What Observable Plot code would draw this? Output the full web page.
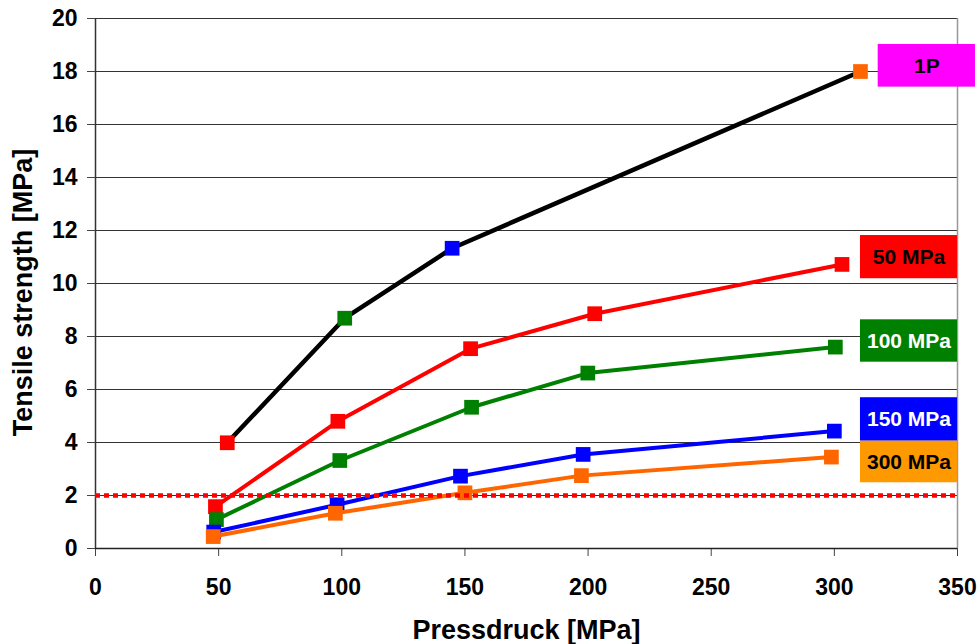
<!DOCTYPE html>
<html>
<head>
<meta charset="utf-8">
<script src="https://cdn.jsdelivr.net/npm/d3@7"></script>
<script src="https://cdn.jsdelivr.net/npm/@observablehq/plot@0.6"></script>
<style>
  html, body { margin: 0; padding: 0; background: #fff; }
  #chart { width: 980px; height: 644px; }
</style>
</head>
<body>
<div id="chart"></div>
<script>
// ---- data ----
const xTicks = [0, 50, 100, 150, 200, 250, 300, 350];
const yTicks = [0, 2, 4, 6, 8, 10, 12, 14, 16, 18, 20];

const seriesNames = ["1P", "50 MPa", "100 MPa", "150 MPa", "300 MPa"];

const x1P = [53.5, 101.2, 144.8, 310.6];
const y1P = [3.99, 8.69, 11.33, 18.0];
const marker1P = ["50 MPa", "100 MPa", "150 MPa", "300 MPa"];

const x50 = [48.7, 98.4, 152.3, 202.7, 303.1];
const y50 = [1.58, 4.80, 7.54, 8.86, 10.72];

const x100 = [49.1, 99.2, 152.7, 199.9, 300.4];
const y100 = [1.09, 3.32, 5.33, 6.62, 7.60];

const x150 = [48.0, 98.1, 148.2, 198.0, 300.0];
const y150 = [0.62, 1.65, 2.73, 3.55, 4.43];

const x300 = [47.8, 97.4, 150.0, 197.3, 298.8];
const y300 = [0.45, 1.33, 2.10, 2.75, 3.45];

const thresholdY = [2];

// legend boxes (in data units)
const labelNames = ["1P", "50 MPa", "100 MPa", "150 MPa", "300 MPa"];
const labelX1 = [317.8, 310.6, 310.6, 310.6, 310.6];
const labelX2 = [357.3, 350, 350, 350, 350];
const labelY1 = [17.41, 10.18, 7.03, 4.05, 2.48];
const labelY2 = [19.02, 11.81, 8.63, 5.69, 4.05];

// ---- styles ----
const lineColor = {"1P": "#000000", "50 MPa": "#FF0000", "100 MPa": "#008000", "150 MPa": "#0000FF", "300 MPa": "#FF6600"};
const markerColor = {"50 MPa": "#FF0000", "100 MPa": "#008000", "150 MPa": "#0000FF", "300 MPa": "#FF6600"};
const boxColor = {"1P": "#FF00FF", "50 MPa": "#FF0000", "100 MPa": "#008000", "150 MPa": "#0000FF", "300 MPa": "#FF9900"};
const boxText = {"1P": "#000000", "50 MPa": "#000000", "100 MPa": "#FFFFFF", "150 MPa": "#FFFFFF", "300 MPa": "#000000"};

// ---- build tables ----
const xs = {"1P": x1P, "50 MPa": x50, "100 MPa": x100, "150 MPa": x150, "300 MPa": x300};
const ys = {"1P": y1P, "50 MPa": y50, "100 MPa": y100, "150 MPa": y150, "300 MPa": y300};
const rows = {};
for (const s of seriesNames) {
  rows[s] = xs[s].map((x, i) => ({
    series: s, x, y: ys[s][i],
    marker: s === "1P" ? markerColor[marker1P[i]] : markerColor[s]
  }));
}
const labels = labelNames.map((n, i) => ({
  name: n, x1: labelX1[i], x2: labelX2[i], y1: labelY1[i], y2: labelY2[i],
  xm: (labelX1[i] + labelX2[i]) / 2, ym: (labelY1[i] + labelY2[i]) / 2
}));

const seriesMarks = [];
for (const s of seriesNames) {
  seriesMarks.push(Plot.line(rows[s], {x: "x", y: "y", stroke: lineColor[s], strokeWidth: s === "1P" ? 4.5 : 4, curve: "linear"}));
  seriesMarks.push(Plot.dot(rows[s], {x: "x", y: "y", symbol: "square", r: 8.3, fill: "marker", stroke: null}));
}

const font = "'Liberation Sans', Arial, Helvetica, sans-serif";

const chart = Plot.plot({
  width: 980,
  height: 644,
  marginLeft: 95,
  marginRight: 23,
  marginTop: 18,
  marginBottom: 96,
  style: {fontFamily: font, background: "#fff", color: "#000", overflow: "visible"},
  x: {domain: [0, 350]},
  y: {domain: [0, 20]},
  color: {type: "identity"},
  marks: [
    Plot.gridY(yTicks.filter(d => d > 0), {stroke: "#333", strokeOpacity: 1, strokeWidth: 1}),
    Plot.ruleX([350], {y1: 0, y2: 20, stroke: "#999", strokeWidth: 1.5}),
    Plot.axisY({ticks: yTicks, tickSize: 8, tickPadding: 10, fontSize: 23, fontWeight: "bold", label: null, stroke: "#444"}),
    Plot.axisX({ticks: xTicks, tickSize: 8, tickPadding: 22, fontSize: 23, fontWeight: "bold", label: null, stroke: "#444"}),
    Plot.ruleX([0], {y1: 0, y2: 20, stroke: "#333", strokeWidth: 1.5}),
    Plot.ruleY([0], {stroke: "#222", strokeWidth: 1.5}),
    ...seriesMarks,
    Plot.ruleY(thresholdY, {stroke: "#FF0000", strokeWidth: 4.5, strokeDasharray: "5,4"}),
    Plot.rect(labels, {x1: "x1", x2: "x2", y1: "y1", y2: "y2", fill: d => boxColor[d.name]}),
    Plot.text(labels, {x: "xm", y: "ym", text: "name", fill: d => boxText[d.name], fontSize: 21, fontWeight: "bold"}),
    Plot.text(["Tensile strength [MPa]"], {frameAnchor: "left", textAnchor: "middle", rotate: -90, dx: -72, dy: 9, fontSize: 27, fontWeight: "bold", text: d => d}),
    Plot.text(["Pressdruck [MPa]"], {frameAnchor: "bottom", textAnchor: "middle", lineAnchor: "bottom", dy: 90, fontSize: 27, fontWeight: "bold", text: d => d})
  ]
});
document.getElementById("chart").appendChild(chart);
</script>
</body>
</html>
